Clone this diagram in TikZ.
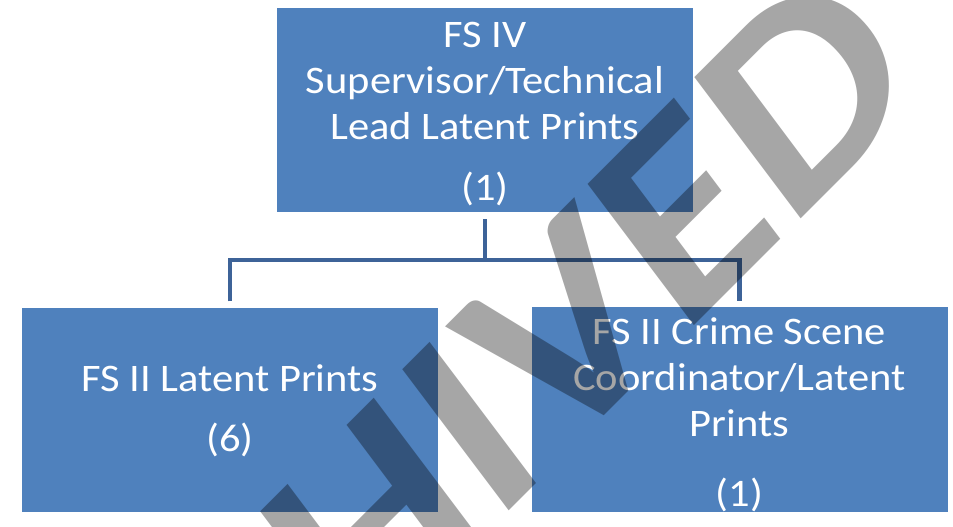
\documentclass[tikz,border=0pt]{standalone}
\usepackage{fontspec}
\newfontfamily\boxfont{Carlito}[FakeStretch=1.09]
\newfontfamily\wmfont{Carlito}[FakeStretch=1.15]
\definecolor{boxblue}{HTML}{4F81BD}
\definecolor{connblue}{HTML}{3D6398}
\begin{document}
\begin{tikzpicture}[x=1pt,y=-1pt,
  orgbox/.style={draw=none, fill=boxblue, text=white, minimum width=416pt, minimum height=204pt, inner sep=0pt, align=center, font=\boxfont\fontsize{39}{46}\selectfont},
  conn/.style={draw=connblue, line width=4.5pt},
  wm/.style={text=black, text opacity=0.35, font=\wmfont\bfseries\itshape\fontsize{270}{270}\selectfont, inner sep=0pt, rotate=45, anchor=base east}]
\useasboundingbox (0,0) rectangle (953,527);
\clip (0,0) rectangle (953,527);
\node[orgbox] (top) at (485,110) {\rule{0pt}{33.5pt}FS IV\\Supervisor/Technical\\Lead Latent Prints\\[15pt](1)};
\node[orgbox] (left) at (230,409.5) {\rule{0pt}{29pt}FS II Latent Prints\\[14pt](6)};
\node[orgbox] (right) at (739.5,409.5) {\rule{0pt}{37.5pt}FS II Crime Scene\\Coordinator/Latent\\Prints\\[24pt](1)};
\coordinate (bus) at (485,260);
\draw[conn] ([yshift=-7pt]top.south) -- (bus);
\draw[conn] ([yshift=6pt]left.north) |- (bus) -| ([yshift=6pt]right.north);
\node[wm] (wmark) at (933,87) {ARCHIVED};
\end{tikzpicture}
\end{document}
